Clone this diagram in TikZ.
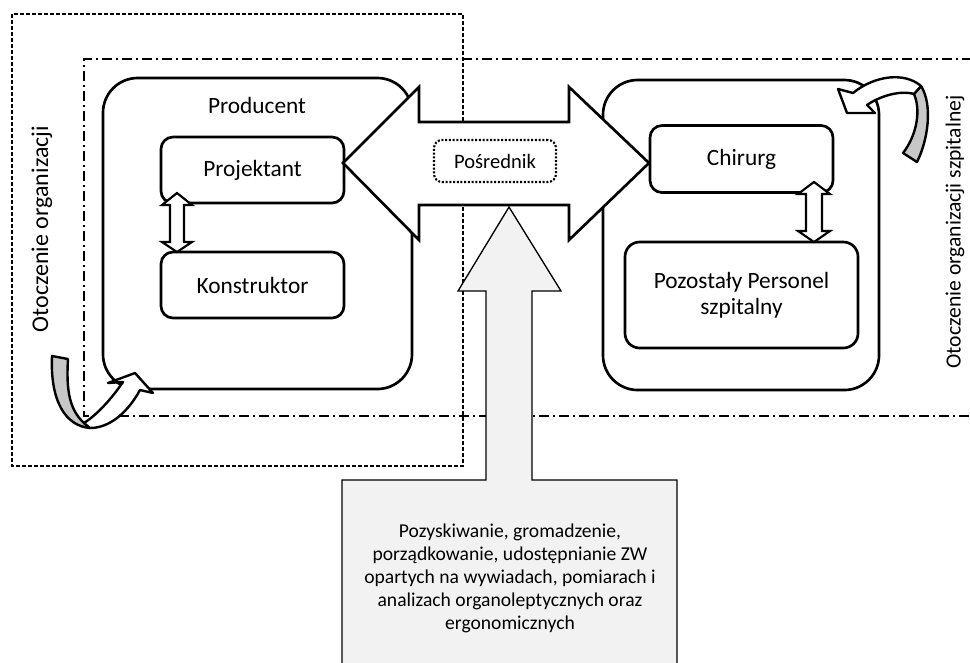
\documentclass[tikz,border=0pt]{standalone}
\usepackage{fontspec}
\setmainfont{Carlito}
\usepackage{xcolor}
\usetikzlibrary{positioning}

\begin{document}
\begin{tikzpicture}[x=0.75pt, y=-0.75pt,
    bigbox/.style={rectangle, draw, line width=2pt, rounded corners=26pt, fill=white},
    box/.style={rectangle, draw, line width=2pt, rounded corners=9pt, fill=white,
      font=\fontsize{17.5}{19.5}\selectfont, align=center},
    blockarrow/.style={draw, line width=2pt, fill=white, line join=miter},
    thinarrow/.style={draw, line width=1.6pt, fill=white, line join=miter},
    bendarrow/.style={draw, line width=1.8pt, line join=round},
    envlabel/.style={rotate=90}]
  \useasboundingbox (0,0) rectangle (970,662);

  % environment frames
  \draw[line width=0.9pt, dash pattern=on 3pt off 1.5pt] (12,14) rectangle (463,466);
  \draw[line width=0.9pt, dash pattern=on 7.5pt off 3pt on 1.5pt off 3pt]
    (972,59) -- (84,59) -- (84,416) -- (972,416);
  \node[envlabel, font=\fontsize{18}{21}\selectfont] (envorg) at (42,229) {Otoczenie organizacji};
  \node[envlabel, font=\fontsize{16.2}{19}\selectfont] (envhosp) at (955,232) {Otoczenie organizacji szpitalnej};

  % producer side
  \node[bigbox, minimum width=231.75pt, minimum height=233.25pt] (prod) at (257.5,233.5) {};
  \node[font=\fontsize{17.5}{19.5}\selectfont] (prodlbl) at (257,105) {Producent};
  \node[box, minimum width=137.25pt, minimum height=49.5pt] (proj) at (252.5,170) {Projektant};
  \node[box, minimum width=137.25pt, minimum height=49.5pt] (konst) at (252.5,285) {Konstruktor};

  % hospital side
  \node[bigbox, minimum width=207pt, minimum height=232.5pt] (hosp) at (741,235) {};
  \node[box, minimum width=137.25pt, minimum height=50.25pt] (chir) at (741.5,159) {Chirurg};
  \node[box, minimum width=174.75pt, minimum height=79.5pt, rounded corners=11pt] (staff) at (741.5,295)
    {Pozostały Personel\\szpitalny};

  % exchange arrow
  \coordinate (ltip) at (343,163);
  \coordinate (rtip) at (649,163);
  \draw[blockarrow] (ltip) -- (419,87) -- (419,122) -- (569,122) -- (569,87) -- (rtip)
    -- (569,240) -- (569,205) -- (419,205) -- (419,240) -- cycle;
  \node[draw, line width=1.6pt, dash pattern=on 1.5pt off 1.3pt, rounded corners=6pt,
    minimum width=91.5pt, minimum height=31.5pt, font=\fontsize{15.4}{18}\selectfont] (posr) at (495,161) {Pośrednik};

  % knowledge callout
  \draw[line width=1pt, fill=black!5, line join=miter] (342,480) -- (486,480) -- (486,291) -- (458,291)
    -- (509,207) -- (561,291) -- (532,291) -- (532,480) -- (677,480) -- (677,666) -- (342,666) -- cycle;
  \node[align=center, font=\fontsize{14.7}{17.25}\selectfont] (zw) at (510,578)
    {Pozyskiwanie, gromadzenie,\\porządkowanie, udostępnianie ZW\\opartych na wywiadach, pomiarach i\\
     analizach organoleptycznych oraz\\ergonomicznych};

  % links inside
  \draw[thinarrow] (177,193) -- (192,205) -- (184,205) -- (184,242) -- (192,242) -- (177,252)
    -- (162,242) -- (170,242) -- (170,205) -- (162,205) -- cycle;
  \draw[thinarrow] (814,182) -- (830,194) -- (822,194) -- (822,231) -- (830,231) -- (814,242)
    -- (798,231) -- (806,231) -- (806,194) -- (798,194) -- cycle;

  % feedback arrows
  \draw[bendarrow, fill=black!22] (52,356) -- (68,359) .. controls (66,392) and (70,410) .. (84,423)
    -- (90,428) .. controls (66,426) and (50,402) .. (52,356) -- cycle;
  \draw[bendarrow, fill=white] (84,423) .. controls (98,414) and (112,398) .. (123,382) -- (108,383)
    -- (135,373) -- (153,393) -- (140,390) .. controls (128,412) and (110,428) .. (90,428) -- cycle;
  \draw[bendarrow, fill=black!22] (903,153) -- (917,162) .. controls (928,140) and (933,105) .. (921,86)
    -- (914,94) .. controls (921,110) and (917,135) .. (903,153) -- cycle;
  \draw[bendarrow, fill=white] (853,93) -- (838,89) -- (847,113) -- (875,113) -- (867,105)
    .. controls (880,96) and (900,90) .. (914,94) -- (921,86) .. controls (905,72) and (875,75) .. (853,93) -- cycle;
\end{tikzpicture}
\end{document}
